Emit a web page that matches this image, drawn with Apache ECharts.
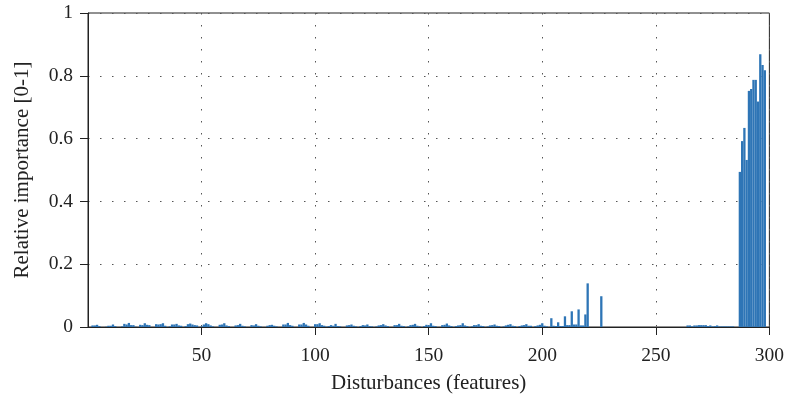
<!DOCTYPE html>
<html>
<head>
<meta charset="utf-8">
<title>Relative importance of disturbances</title>
<script src="https://cdn.jsdelivr.net/npm/echarts@6/dist/echarts.min.js"></script>
<style>
  html, body { margin: 0; padding: 0; background: #ffffff; }
  #chart { width: 787px; height: 402px; }
</style>
</head>
<body>
<div id="chart"></div>
<script>
// Relative importance of each disturbance feature, features numbered from 1
const importance = [
  // 1-50
  0, 0.005, 0.005, 0.007, 0.003, 0, 0, 0.001, 0.004, 0.004,
  0.008, 0.003, 0, 0, 0.002, 0.010, 0.008, 0.013, 0.006, 0.006,
  0.001, 0, 0.007, 0.006, 0.012, 0.007, 0.006, 0, 0, 0.009,
  0.008, 0.009, 0.012, 0.004, 0, 0.002, 0.008, 0.008, 0.010, 0.005,
  0.004, 0, 0.003, 0.009, 0.011, 0.008, 0.006, 0.005, 0, 0.002,
  // 51-100
  0.008, 0.012, 0.009, 0.005, 0.002, 0, 0, 0.007, 0.008, 0.012,
  0.005, 0.003, 0, 0, 0.005, 0.006, 0.010, 0.004, 0.002, 0,
  0, 0.006, 0.005, 0.009, 0.004, 0.002, 0, 0, 0.004, 0.006,
  0.007, 0.004, 0.002, 0, 0, 0.008, 0.008, 0.013, 0.006, 0.004,
  0, 0, 0.008, 0.008, 0.013, 0.008, 0.004, 0, 0, 0.009,
  // 101-150
  0.009, 0.012, 0.006, 0.004, 0.001, 0.003, 0.006, 0.004, 0.010, 0.003,
  0.002, 0, 0, 0.005, 0.006, 0.008, 0.004, 0.002, 0, 0.003,
  0.006, 0.005, 0.008, 0.003, 0.002, 0, 0.002, 0.005, 0.006, 0.009,
  0.005, 0.003, 0, 0, 0.006, 0.006, 0.010, 0.004, 0.003, 0,
  0.002, 0.006, 0.007, 0.010, 0.004, 0.002, 0, 0.003, 0.007, 0.006,
  // 151-200
  0.012, 0.004, 0.003, 0, 0, 0.006, 0.007, 0.011, 0.005, 0.003,
  0, 0.003, 0.005, 0.006, 0.012, 0.005, 0.003, 0, 0.002, 0.006,
  0.006, 0.009, 0.004, 0.003, 0, 0.002, 0.005, 0.006, 0.008, 0.004,
  0.003, 0, 0.002, 0.005, 0.007, 0.009, 0.004, 0.003, 0, 0.003,
  0.005, 0.006, 0.009, 0.004, 0.004, 0, 0.003, 0.005, 0.007, 0.012,
  // 201-250
  0.004, 0.002, 0, 0.028, 0.004, 0.003, 0.015, 0.003, 0.003, 0.034,
  0.006, 0.006, 0.050, 0.008, 0.008, 0.056, 0.005, 0.005, 0.040, 0.139,
  0, 0, 0, 0, 0, 0.098, 0, 0, 0, 0,
  0, 0, 0, 0, 0, 0, 0, 0, 0, 0,
  0, 0, 0, 0, 0, 0, 0, 0, 0, 0,
  // 251-300
  0, 0, 0, 0, 0, 0, 0, 0, 0, 0,
  0, 0, 0, 0.005, 0.005, 0.002, 0.005, 0.005, 0.006, 0.006,
  0.006, 0.006, 0.003, 0.005, 0.002, 0.003, 0.005, 0.002, 0.002, 0.002,
  0.002, 0.002, 0.002, 0.002, 0, 0, 0.494, 0.592, 0.634, 0.532,
  0.752, 0.758, 0.787, 0.787, 0.718, 0.869, 0.834, 0.818, 0, 0
];

const xTicks = [0, 50, 100, 150, 200, 250, 300];
const yTicks = [0, 0.2, 0.4, 0.6, 0.8, 1];

const xTitle = 'Disturbances (features)';
const yTitle = 'Relative importance [0-1]';

const barColor = '#2e75b6';
const serif = '"Liberation Serif", "DejaVu Serif", serif';

// [feature number, importance] pairs for the value x axis
const barData = importance.map((v, i) => [i + 1, v]);

const dotted = { color: '#555555', width: 1, type: [1.5, 10.5] };

const chart = echarts.init(document.getElementById('chart'), null, { renderer: 'canvas' });

chart.setOption({
  animation: false,
  backgroundColor: '#ffffff',
  grid: {
    left: 88, right: 14, top: 13, bottom: 75,
    show: true, borderColor: '#222222', borderWidth: 1,
    containLabel: false
  },
  xAxis: {
    type: 'value',
    min: xTicks[0],
    max: xTicks[xTicks.length - 1],
    interval: xTicks[1] - xTicks[0],
    name: xTitle,
    nameLocation: 'middle',
    nameGap: 46,
    nameTextStyle: { fontFamily: serif, fontSize: 21, color: '#222' },
    axisLine: { show: true, lineStyle: { color: '#222', width: 1 } },
    axisTick: { show: true, inside: false, length: 8, lineStyle: { color: '#222' } },
    axisLabel: {
      showMinLabel: false,
      margin: 19,
      fontFamily: serif, fontSize: 19.5, color: '#222'
    },
    splitLine: { show: true, lineStyle: dotted }
  },
  yAxis: {
    type: 'value',
    min: yTicks[0],
    max: yTicks[yTicks.length - 1],
    interval: yTicks[1] - yTicks[0],
    name: yTitle,
    nameLocation: 'middle',
    nameGap: 55,
    nameTextStyle: { fontFamily: serif, fontSize: 21, color: '#222' },
    axisLine: { show: true, lineStyle: { color: '#222', width: 1 } },
    axisTick: { show: true, inside: false, length: 8, lineStyle: { color: '#222' } },
    axisLabel: {
      margin: 15,
      fontFamily: serif, fontSize: 19.5, color: '#222',
      formatter: v => String(Math.round(v * 10) / 10)
    },
    splitLine: { show: true, lineStyle: dotted }
  },
  series: [{
    type: 'bar',
    data: barData,
    barWidth: 2.3,
    itemStyle: { color: barColor },
    silent: true
  }]
});
</script>
</body>
</html>
